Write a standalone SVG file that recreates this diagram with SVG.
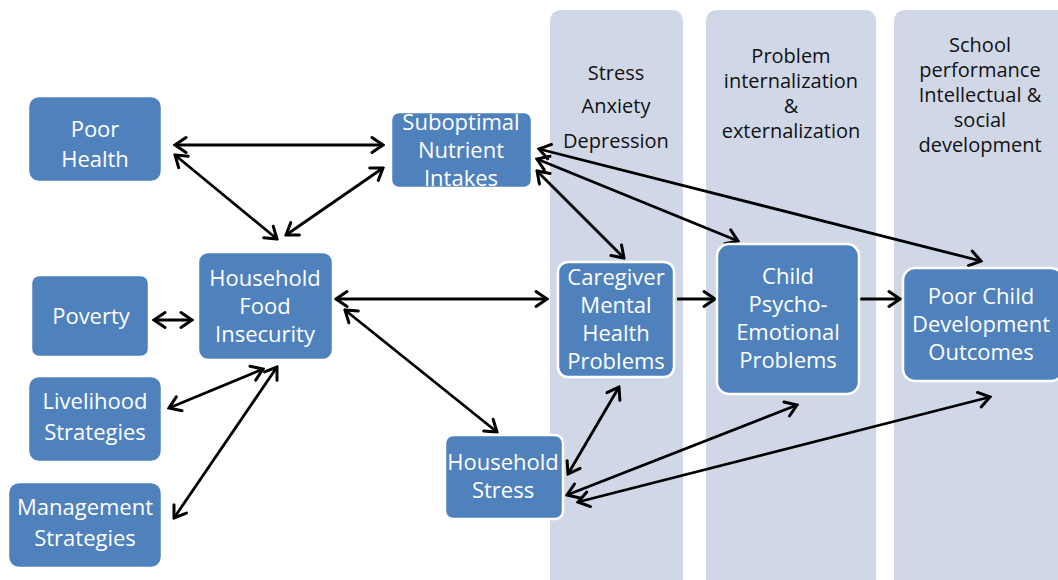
<svg xmlns="http://www.w3.org/2000/svg" width="1058" height="580" viewBox="0 0 1058 580">
<defs>
<marker id="ah" viewBox="-13 -10 15 20" refX="0" refY="0" markerWidth="15" markerHeight="20" markerUnits="userSpaceOnUse" orient="auto-start-reverse">
<path d="M-11,-7.5 L0,0 L-11,7.5" fill="none" stroke="#000" stroke-width="3" stroke-linecap="round" stroke-linejoin="miter"/>
</marker>
</defs>
<style>
.col{fill:#D0D8E8}
.node{fill:#4F81BD;stroke:#fff;stroke-width:2.5}
.nt{font-family:"Open Sans","Liberation Sans",sans-serif;font-size:22px;fill:#fff;text-anchor:middle}
.ht{font-family:"Open Sans","Liberation Sans",sans-serif;font-size:20px;fill:#111;text-anchor:middle}
.c{fill:none;stroke:#000;stroke-width:2.8;marker-end:url(#ah)}
.b{marker-start:url(#ah)}
</style>
<rect width="1058" height="580" fill="#fff"/>
<g id="columns">
<path class="col" d="M550,600 V22 Q550,10 562,10 H671 Q683,10 683,22 V600 Z"/>
<path class="col" d="M706,600 V22 Q706,10 718,10 H864 Q876,10 876,22 V600 Z"/>
<path class="col" d="M894,600 V22 Q894,10 906,10 H1058 V600 Z"/>
<text class="ht" x="616" y="80">Stress</text>
<text class="ht" x="616" y="113">Anxiety</text>
<text class="ht" x="616" y="148">Depression</text>
<text class="ht" x="791" y="63">Problem</text>
<text class="ht" x="791" y="88">internalization</text>
<text class="ht" x="791" y="113">&amp;</text>
<text class="ht" x="791" y="138">externalization</text>
<text class="ht" x="980" y="52">School</text>
<text class="ht" x="980" y="77">performance</text>
<text class="ht" x="980" y="102">Intellectual &amp;</text>
<text class="ht" x="980" y="127">social</text>
<text class="ht" x="980" y="152">development</text>
</g>
<g id="connectors">
<line class="c b" x1="175" y1="145" x2="383" y2="145"/>
<line class="c b" x1="175" y1="155" x2="277" y2="239"/>
<line class="c b" x1="286" y1="235" x2="383" y2="168"/>
<line class="c b" x1="154" y1="320" x2="192" y2="320"/>
<line class="c b" x1="169" y1="408" x2="263" y2="369"/>
<line class="c b" x1="174" y1="518" x2="277" y2="367"/>
<line class="c b" x1="336" y1="299" x2="547" y2="299"/>
<line class="c b" x1="345" y1="310" x2="497" y2="432"/>
<line class="c b" x1="537" y1="171" x2="624" y2="258"/>
<line class="c b" x1="537" y1="159" x2="738" y2="241"/>
<line class="c b" x1="539" y1="149" x2="981" y2="261"/>
<line class="c" x1="677" y1="299" x2="715" y2="299"/>
<line class="c" x1="859" y1="299" x2="900" y2="299"/>
<line class="c b" x1="568" y1="474" x2="619" y2="387"/>
<line class="c b" x1="567" y1="495" x2="797" y2="405"/>
<line class="c b" x1="578" y1="502" x2="990" y2="397"/>
</g>
<g id="poor-health">
<rect class="node" x="28" y="96" width="134" height="86" rx="11"/>
<text class="nt" x="95" y="137">Poor</text>
<text class="nt" x="95" y="167">Health</text>
</g>
<g id="suboptimal-nutrient-intakes">
<rect class="node" x="391" y="112" width="141" height="76" rx="8"/>
<text class="nt" x="461" y="130">Suboptimal</text>
<text class="nt" x="461" y="158">Nutrient</text>
<text class="nt" x="461" y="186">Intakes</text>
</g>
<g id="household-food-insecurity">
<rect class="node" x="198" y="252" width="135" height="108" rx="10"/>
<text class="nt" x="265" y="286">Household</text>
<text class="nt" x="265" y="314">Food</text>
<text class="nt" x="265" y="342">Insecurity</text>
</g>
<g id="poverty">
<rect class="node" x="31" y="275" width="118" height="82" rx="8"/>
<text class="nt" x="91" y="324">Poverty</text>
</g>
<g id="livelihood-strategies">
<rect class="node" x="28" y="376" width="134" height="86" rx="11"/>
<text class="nt" x="95" y="409">Livelihood</text>
<text class="nt" x="95" y="440">Strategies</text>
</g>
<g id="management-strategies">
<rect class="node" x="8" y="482" width="154" height="86" rx="11"/>
<text class="nt" x="85" y="515">Management</text>
<text class="nt" x="85" y="546">Strategies</text>
</g>
<g id="caregiver-mental-health-problems">
<rect class="node" x="558" y="262" width="116" height="115" rx="10" stroke-width="3"/>
<text class="nt" x="616" y="285">Caregiver</text>
<text class="nt" x="616" y="313">Mental</text>
<text class="nt" x="616" y="341">Health</text>
<text class="nt" x="616" y="369">Problems</text>
</g>
<g id="child-psycho-emotional-problems">
<rect class="node" x="717" y="244" width="142" height="150" rx="12" stroke-width="3"/>
<text class="nt" x="788" y="284">Child</text>
<text class="nt" x="788" y="312">Psycho-</text>
<text class="nt" x="788" y="340">Emotional</text>
<text class="nt" x="788" y="368">Problems</text>
</g>
<g id="poor-child-development-outcomes">
<rect class="node" x="903" y="268" width="160" height="113" rx="12" stroke-width="3"/>
<text class="nt" x="981" y="304">Poor Child</text>
<text class="nt" x="981" y="332">Development</text>
<text class="nt" x="981" y="360">Outcomes</text>
</g>
<g id="household-stress">
<rect class="node" x="445" y="435" width="118" height="84" rx="8" stroke-width="3"/>
<text class="nt" x="503" y="470">Household</text>
<text class="nt" x="503" y="498">Stress</text>
</g>
</svg>
